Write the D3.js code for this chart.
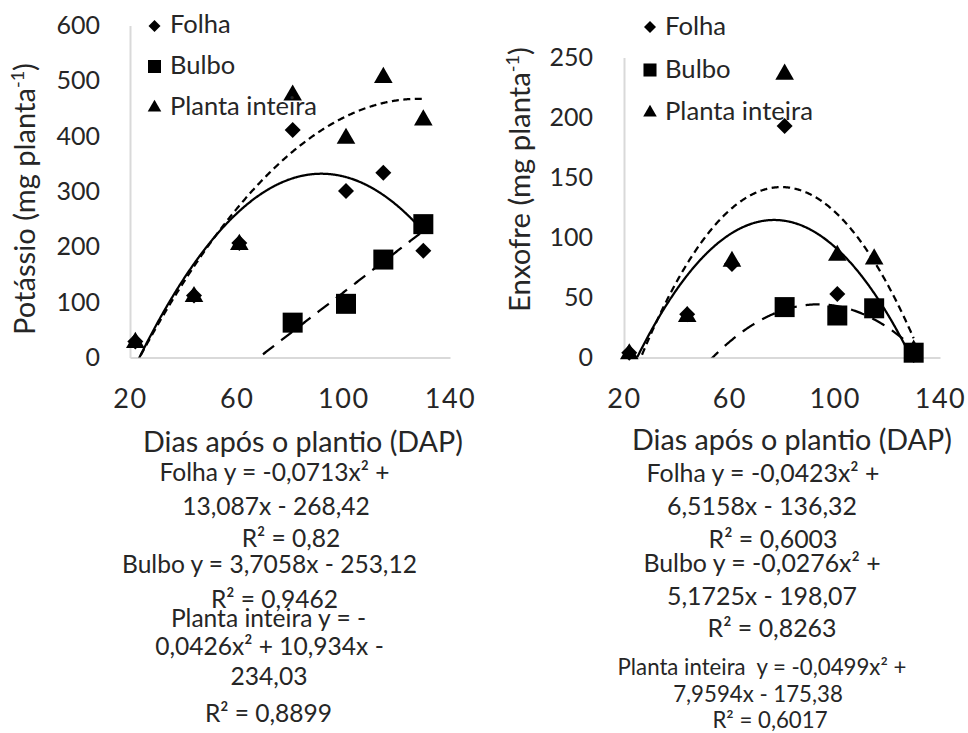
<!DOCTYPE html>
<html><head><meta charset="utf-8">
<script src="https://cdn.jsdelivr.net/npm/d3@7"></script>
<style>
body{margin:0;background:#fff}
svg{display:block}
text{font-family:Lato,"Noto Sans",sans-serif;fill:#262626}
</style>
</head><body>
<svg id="chart" width="968" height="733"></svg>
<script>
// ---------- data ----------
const days = [22, 44, 61, 81, 101, 115, 130];
const bulboDays = [81, 101, 115, 130];
const seriesNames = ["Folha", "Bulbo", "Planta inteira"];
const xTicks = [20, 60, 100, 140];

// Potássio (mg planta-1)
const kFolha = [29, 112, 207, 411, 301, 334, 193];
const kBulbo = [63, 97, 177, 241];
const kPlanta = [27, 110, 204, 474, 396, 506, 429];
const kYTicks = [0, 100, 200, 300, 400, 500, 600];
// trendline coefficients [a, b, c] : y = a·x² + b·x + c
const kFolhaFit = [-0.0713, 13.087, -268.42];
const kBulboFit = [0, 3.7058, -253.12];
const kPlantaFit = [-0.0426, 10.934, -234.03];
const kEquationLines = [
  "Folha y = -0,0713x² +", "13,087x - 268,42", "R² = 0,82",
  "Bulbo y = 3,7058x - 253,12", "R² = 0,9462",
  "Planta inteira y = -", "0,0426x² + 10,934x -", "234,03", "R² = 0,8899"
];

// Enxofre (mg planta-1)
const sFolha = [4, 36, 78, 193, 53, 40, 2];
const sBulbo = [42, 35, 41, 4];
const sPlanta = [3, 34, 80, 236, 85, 82, 6];
const sYTicks = [0, 50, 100, 150, 200, 250];
const sFolhaFit = [-0.0423, 6.5158, -136.32];
const sBulboFit = [-0.0276, 5.1725, -198.07];
const sPlantaFit = [-0.0499, 7.9594, -175.38];
const sEquationLines = [
  "Folha y = -0,0423x² +", "6,5158x - 136,32", "R² = 0,6003",
  "Bulbo y = -0,0276x² +", "5,1725x - 198,07", "R² = 0,8263",
  "Planta inteira  y = -0,0499x² +", "7,9594x - 175,38", "R² = 0,6017"
];

// ---------- drawing ----------
const svg = d3.select("#chart");

function fit(sel, target) {
  const n = sel.node();
  const fs = parseFloat(getComputedStyle(n).fontSize);
  const w = n.getComputedTextLength();
  const nf = fs * target / w;
  sel.style("font-size", nf + "px");
  return nf;
}

const panels = [
  {
    id: "k", title: "Potássio (mg planta", yMax: 600, yTicks: kYTicks,
    xr: [130, 450], yr: [357.5, 25.5], tickPad: 30,
    folha: kFolha, bulbo: kBulbo, planta: kPlanta,
    fits: [kFolhaFit, kBulboFit, kPlantaFit],
    eq: kEquationLines,
    eqX: [274.5, 276, 291, 269.5, 274.5, 268.5, 269.5, 269, 268.5],
    eqY: [481, 515, 547, 573, 608, 627, 655, 685, 722],
    eqGroups: [[0, 9, 3, 295]],
    xTitle: [303, 452], yTitle: [35, 199, 272],
    leg: {mx: 154.5, my: [26, 66.5, 107.5], tx: 170, ty: [33, 74, 115], w: 147}
  },
  {
    id: "s", title: "Enxofre (mg planta", yMax: 250, yTicks: sYTicks,
    xr: [624, 940], yr: [357.5, 57.5], tickPad: 31,
    folha: sFolha, bulbo: sBulbo, planta: sPlanta,
    fits: [sFolhaFit, sBulboFit, sPlantaFit],
    eq: sEquationLines,
    eqX: [763, 762, 773, 762, 762, 772, 762, 758, 770],
    eqY: [482, 515, 548, 572, 605, 637, 675, 702, 728],
    eqGroups: [[0, 6, 0, 233], [6, 9, 6, 289]],
    xTitle: [792, 450], yTitle: [530, 179.5, 265],
    leg: {mx: 650, my: [27, 70, 112.5], tx: 665, ty: [35, 78, 120], w: 148}
  }
];

const diamond = d3.symbol().type(d3.symbolSquare);
const square = d3.symbol().type(d3.symbolSquare);
const tri = d3.symbol().type(d3.symbolTriangle);

panels.forEach(p => {
  const g = svg.append("g");
  const x = d3.scaleLinear().domain([20, 140]).range(p.xr);
  const y = d3.scaleLinear().domain([0, p.yMax]).range(p.yr);

  // y axis
  const ya = g.append("g").attr("transform", `translate(${p.xr[0]},0)`)
    .call(d3.axisLeft(y).tickValues(p.yTicks).tickSize(0).tickPadding(p.tickPad));
  ya.select(".domain").attr("stroke", "#d9d9d9").attr("stroke-width", 2);
  ya.selectAll("text").style("font-size", "25px").style("font-family", "Lato").attr("fill", "#262626");
  // x axis
  const xa = g.append("g").attr("transform", `translate(0,${p.yr[0]})`)
    .call(d3.axisBottom(x).tickValues(xTicks).tickSize(0).tickPadding(31));
  xa.select(".domain").attr("stroke", "#d9d9d9").attr("stroke-width", 2);
  xa.selectAll("text").style("font-size", "27px").style("font-family", "Lato")
    .style("letter-spacing", "1.5px").attr("fill", "#262626");

  // clip for trendlines
  const cid = "clip-" + p.id;
  svg.append("clipPath").attr("id", cid).append("rect")
    .attr("x", p.xr[0]).attr("y", 0)
    .attr("width", p.xr[1] - p.xr[0]).attr("height", p.yr[0]);

  // trendlines
  const styles = [null, "14,9", "7,4.5"];
  const xs = d3.range(days[0], days[days.length - 1] + 0.001, 0.25);
  p.fits.forEach((c, i) => {
    const pts = xs.map(d => [d, c[0] * d * d + c[1] * d + c[2]]);
    g.append("path")
      .attr("clip-path", `url(#${cid})`)
      .attr("d", d3.line().x(d => x(d[0])).y(d => y(d[1]))(pts))
      .attr("fill", "none").attr("stroke", "#000").attr("stroke-width", 2.25)
      .attr("stroke-dasharray", styles[i]);
  });

  // markers
  g.selectAll(".fol").data(days.map((d, i) => [d, p.folha[i]])).join("path")
    .attr("d", diamond.size(128)())
    .attr("transform", d => `translate(${x(d[0])},${y(d[1])}) rotate(45)`)
    .attr("fill", "#000");
  g.selectAll(".bul").data(bulboDays.map((d, i) => [d, p.bulbo[i]])).join("path")
    .attr("d", square.size(400)())
    .attr("transform", d => `translate(${x(d[0])},${y(d[1])})`)
    .attr("fill", "#000");
  g.selectAll(".pla").data(days.map((d, i) => [d, p.planta[i]])).join("path")
    .attr("d", tri.size(150)())
    .attr("transform", d => `translate(${x(d[0])},${y(d[1])})`)
    .attr("fill", "#000");

  // legend
  const L = p.leg;
  g.append("path").attr("d", diamond.size(72)())
    .attr("transform", `translate(${L.mx},${L.my[0]}) rotate(45)`).attr("fill", "#000");
  g.append("path").attr("d", square.size(170)())
    .attr("transform", `translate(${L.mx},${L.my[1]})`).attr("fill", "#000");
  g.append("path").attr("d", tri.size(80)())
    .attr("transform", `translate(${L.mx},${L.my[2]})`).attr("fill", "#000");
  const lt = seriesNames.map((s, i) => g.append("text")
    .attr("x", L.tx).attr("y", L.ty[i]).style("font-size", "24px").text(s));
  const lf = fit(lt[2], L.w);
  lt.forEach(t => t.style("font-size", lf + "px"));

  // x title
  const xt = g.append("text").attr("x", p.xTitle[0]).attr("y", p.xTitle[1])
    .attr("text-anchor", "middle").style("font-size", "29px").text("Dias após o plantio (DAP)");
  fit(xt, 320);

  // y title
  const yt = g.append("text")
    .attr("transform", `translate(${p.yTitle[0]},${p.yTitle[1]}) rotate(-90)`)
    .attr("text-anchor", "middle").style("font-size", "27px");
  yt.append("tspan").text(p.title);
  yt.append("tspan").attr("baseline-shift", "super").style("font-size", "0.62em").text("-1");
  yt.append("tspan").text(")");
  fit(yt, p.yTitle[2]);

  // equations
  const et = p.eq.map((s, i) => g.append("text")
    .attr("x", p.eqX[i]).attr("y", p.eqY[i]).attr("text-anchor", "middle")
    .style("font-size", "25px").style("white-space", "pre").text(s));
  p.eqGroups.forEach(([a, b, ref, w]) => {
    const f = fit(et[ref], w);
    for (let i = a; i < b; i++) et[i].style("font-size", f + "px");
  });
});
</script>
</body></html>
